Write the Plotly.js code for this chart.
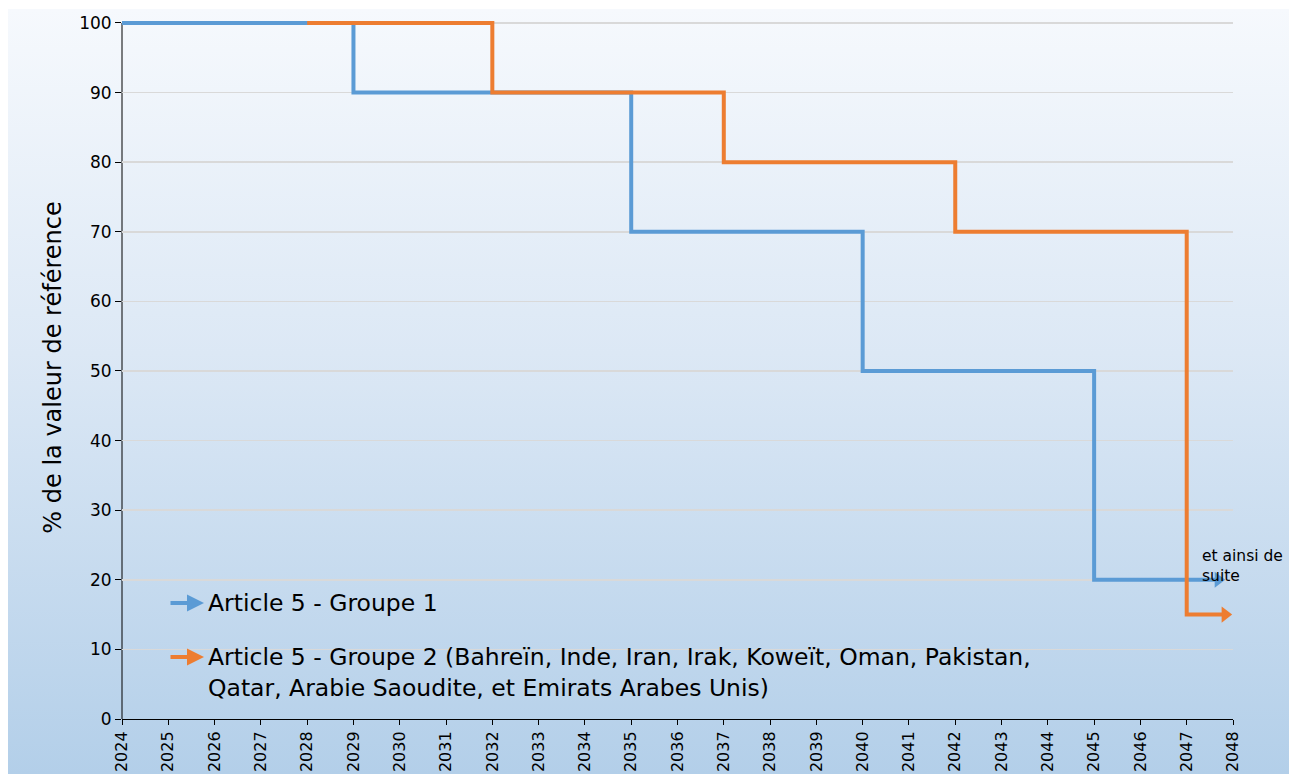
<!DOCTYPE html>
<html>
<head>
<meta charset="utf-8">
<script src="https://cdn.plot.ly/plotly-3.0.1.min.js"></script>
<style>
  html, body { margin: 0; padding: 0; background: #ffffff; }
  #wrap { position: relative; width: 1289px; height: 774px; overflow: hidden; }
  #card { position: absolute; left: 8px; top: 9px; width: 1281px; height: 765px;
          background: linear-gradient(to bottom, #f6f9fd 0%, #dce8f5 45%, #b3cfe9 100%); }
  #chart { position: absolute; left: 0; top: 0; width: 1289px; height: 774px; }
</style>
</head>
<body>
<div id="wrap"><div id="card"></div><div id="chart"></div></div>
<script>
// Data
const years = [2024,2025,2026,2027,2028,2029,2030,2031,2032,2033,2034,2035,2036,2037,2038,2039,2040,2041,2042,2043,2044,2045,2046,2047,2048];
const tickLabels = years.map(String);
const yTicks = [0,10,20,30,40,50,60,70,80,90,100];
const group1Name = "Article 5 - Groupe 1";
const group1X = [2024, 2029, 2035, 2040, 2045, 2047.68];
const group1Y = [100, 90, 70, 50, 20, 20];
const group2Name = "Article 5 - Groupe 2 (Bahreïn, Inde, Iran, Irak, Koweït, Oman, Pakistan,<br>Qatar, Arabie Saoudite, et Emirats Arabes Unis)";
const group2X = [2028, 2032, 2037, 2042, 2047, 2047.83];
const group2Y = [100, 90, 80, 70, 15, 15];
const noteText = "et ainsi de<br>suite";
const yTitle = "% de la valeur de référence";

const blue = "#5b9bd5", orange = "#ed7d31";
const font = "DejaVu Sans, Arial, sans-serif";

const traces = [
  { x: group1X, y: group1Y, mode: "lines", line: { color: blue, width: 4, shape: "hv" }, hoverinfo: "skip", showlegend: false },
  { x: group2X, y: group2Y, mode: "lines", line: { color: orange, width: 4, shape: "hv" }, hoverinfo: "skip", showlegend: false },
  { x: [group1X[group1X.length-1]], y: [group1Y[group1Y.length-1]], mode: "markers",
    marker: { symbol: "triangle-right", size: 14, color: blue }, hoverinfo: "skip", showlegend: false },
  { x: [group2X[group2X.length-1]], y: [group2Y[group2Y.length-1]], mode: "markers",
    marker: { symbol: "triangle-right", size: 14, color: orange }, hoverinfo: "skip", showlegend: false }
];

const layout = {
  width: 1289, height: 774,
  margin: { l: 122, r: 56, t: 16.04, b: 55 },
  paper_bgcolor: "rgba(0,0,0,0)",
  plot_bgcolor: "rgba(0,0,0,0)",
  font: { family: font, color: "#000", size: 17 },
  showlegend: false,
  xaxis: {
    range: [2024, 2048], tickmode: "array", tickvals: years, ticktext: tickLabels,
    tickangle: -90, ticks: "outside", ticklen: 5, tickcolor: "#000", tickwidth: 1,
    showline: true, linecolor: "#000", linewidth: 1, showgrid: false, zeroline: false,
    tickfont: { size: 16 }, automargin: false
  },
  yaxis: {
    range: [0, 101], tickmode: "array", tickvals: yTicks,
    ticks: "outside", ticklen: 6, tickcolor: "#000", tickwidth: 1,
    showline: false,
    showgrid: true, gridcolor: "#d9d9d9", gridwidth: 1.5, zeroline: false,
    tickfont: { size: 17 }, automargin: false,
    title: { text: yTitle, font: { size: 24 }, standoff: 10 }
  },
  shapes: [
    { type: "line", xref: "paper", yref: "y", x0: 0, x1: 0, y0: 0, y1: 100,
      line: { color: "#000", width: 1 }, layer: "below" }
  ],
  annotations: [
    { xref: "paper", yref: "paper", x: (204-122)/1111, y: (719-603)/702.96, ax: -35, ay: 0,
      showarrow: true, arrowhead: 2, arrowsize: 0.85, arrowwidth: 4, arrowcolor: blue, text: "" },
    { xref: "paper", yref: "paper", x: (204-122)/1111, y: (719-657)/702.96, ax: -35, ay: 0,
      showarrow: true, arrowhead: 2, arrowsize: 0.85, arrowwidth: 4, arrowcolor: orange, text: "" },
    { xref: "paper", yref: "paper", x: (206-122)/1111, y: (719-603)/702.96, xanchor: "left", yanchor: "middle",
      showarrow: false, text: group1Name, font: { size: 23.5 }, align: "left" },
    { xref: "paper", yref: "paper", x: (206-122)/1111, y: (719-641)/702.96, xanchor: "left", yanchor: "top",
      showarrow: false, text: group2Name, font: { size: 23.5 }, align: "left" },
    { xref: "x", yref: "y", x: 2047.29, y: 22, xanchor: "left", yanchor: "middle",
      showarrow: false, text: noteText, font: { size: 15.5 }, align: "left" }
  ]
};

Plotly.newPlot("chart", traces, layout, { displayModeBar: false, staticPlot: true });
</script>
</body>
</html>
